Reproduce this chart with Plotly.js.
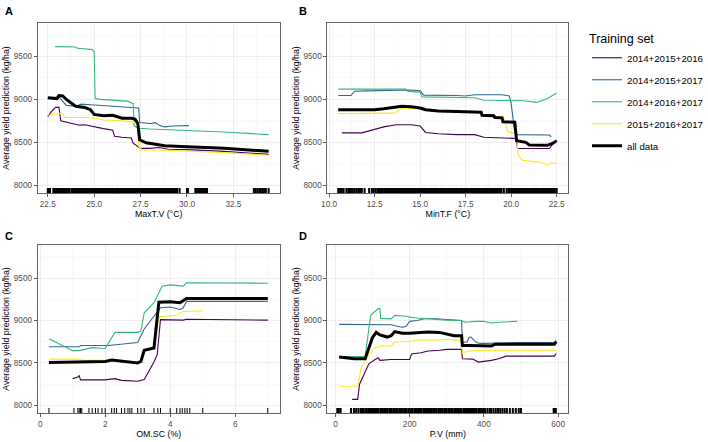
<!DOCTYPE html>
<html>
<head>
<meta charset="utf-8">
<script src="https://cdn.plot.ly/plotly-3.0.1.min.js"></script>
<style>html,body{margin:0;padding:0;background:#fff;}#chart{width:708px;height:442px;}</style>
</head>
<body>
<div id="chart"></div>
<script>
// ---------- Series names ----------
const seriesNames = ["2014+2015+2016", "2014+2015+2017", "2014+2016+2017", "2015+2016+2017", "all data"];

// ---------- Panel A: MaxT.V (°C) ----------
const A_2016_x = [22.5, 22.7, 22.9, 23.1, 23.2, 23.5, 23.7, 24.2, 24.5, 24.8, 25.0, 25.5, 26.0, 26.1, 26.5, 27.0, 27.1, 27.3, 27.5, 28.0, 28.5, 29.0, 30.0, 32.0, 34.4];
const A_2016_y = [8800, 8860, 8905, 8910, 8750, 8735, 8720, 8700, 8705, 8690, 8680, 8660, 8640, 8570, 8560, 8550, 8490, 8460, 8430, 8430, 8440, 8420, 8415, 8395, 8360];
const A_2017a_x = [22.5, 23.1, 23.3, 23.5, 24.0, 24.3, 25.0, 26.0, 27.0, 27.4, 27.45, 28.0, 28.3, 28.5, 28.8, 29.2, 30.1];
const A_2017a_y = [9010, 9030, 8980, 8930, 8920, 8945, 8935, 8920, 8910, 8900, 8730, 8720, 8730, 8700, 8680, 8690, 8695];
const A_2017b_x = [22.9, 24.0, 24.1, 24.7, 24.9, 25.0, 25.05, 25.3, 26.5, 26.8, 27.0, 27.1, 27.15, 27.4, 28.0, 30.0, 32.0, 34.4];
const A_2017b_y = [9615, 9610, 9595, 9590, 9580, 9550, 9010, 9000, 8990, 8980, 8960, 8950, 8690, 8665, 8655, 8640, 8620, 8590];
const A_2017c_x = [22.5, 23.0, 23.3, 23.4, 24.5, 25.0, 25.5, 26.5, 27.0, 27.35, 27.4, 27.6, 28.5, 30.0, 32.0, 34.4];
const A_2017c_y = [8815, 8835, 8840, 8790, 8790, 8780, 8760, 8750, 8740, 8730, 8450, 8410, 8410, 8400, 8380, 8350];
const A_all_x = [22.5, 22.9, 23.0, 23.1, 23.3, 23.5, 23.7, 24.0, 24.5, 24.8, 25.0, 25.5, 26.0, 26.3, 26.5, 27.0, 27.2, 27.35, 27.45, 27.8, 28.3, 28.8, 30.0, 32.0, 34.4];
const A_all_y = [9020, 9015, 9010, 9045, 9040, 9000, 8965, 8920, 8905, 8880, 8825, 8810, 8815, 8790, 8780, 8780, 8770, 8720, 8530, 8495, 8480, 8460, 8450, 8430, 8395];
const A_rug = [22.5,22.55,22.62,22.8,22.86,22.93,23.0,23.07,23.12,23.2,23.27,23.33,23.41,23.48,23.55,23.6,23.68,23.8,23.86,23.92,24.0,24.06,24.13,24.2,24.26,24.33,24.4,24.47,24.53,24.6,24.66,24.73,24.8,24.86,24.93,25.0,25.06,25.13,25.2,25.26,25.33,25.4,25.46,25.53,25.6,25.66,25.73,25.8,25.86,25.93,26.0,26.06,26.13,26.2,26.26,26.33,26.4,26.46,26.53,26.6,26.66,26.73,26.8,26.86,26.93,27.0,27.06,27.13,27.2,27.26,27.33,27.4,27.46,27.53,27.6,27.66,27.73,27.8,27.86,27.93,28.0,28.06,28.13,28.2,28.26,28.33,28.4,28.46,28.53,28.6,28.66,28.73,28.8,28.86,28.93,29.0,29.06,29.13,29.2,29.26,29.33,29.4,29.47,29.6,30.0,30.05,30.45,30.52,30.6,30.7,30.78,30.85,30.92,31.0,31.08,33.6,33.7,33.8,33.9,33.97,34.05,34.15,34.25,34.4];

// ---------- Panel B: MinT.F (°C) ----------
const B_2016_x = [10.7, 11.8, 13.0, 13.7, 14.5, 15.0, 15.3, 16.0, 17.0, 18.0, 18.5, 20.27, 20.35, 21.0, 22.1, 22.3, 22.5];
const B_2016_y = [8610, 8610, 8680, 8705, 8705, 8690, 8615, 8600, 8590, 8590, 8560, 8545, 8430, 8428, 8428, 8485, 8520];
const B_2017a_x = [10.5, 11.2, 11.4, 12.0, 14.5, 15.0, 15.2, 16.0, 17.0, 17.5, 18.0, 19.5, 19.9, 20.0, 20.1, 20.2, 20.3, 21.0, 22.1, 22.2];
const B_2017a_y = [9045, 9045, 9095, 9100, 9110, 9100, 9050, 9050, 9045, 9040, 9055, 9055, 9040, 8950, 8750, 8620, 8590, 8585, 8585, 8565];
const B_2017b_x = [10.5, 14.2, 14.3, 15.0, 15.1, 18.0, 18.5, 20.0, 20.7, 21.4, 22.0, 22.5];
const B_2017b_y = [9120, 9120, 9095, 9085, 9030, 9020, 8990, 8990, 8985, 8965, 9010, 9075];
const B_2017c_x = [10.5, 13.6, 14.0, 15.0, 15.3, 16.0, 18.3, 18.5, 19.55, 19.83, 20.27, 20.4, 20.63, 21.5, 22.0, 22.2, 22.5];
const B_2017c_y = [8835, 8840, 8893, 8900, 8880, 8860, 8850, 8805, 8800, 8620, 8600, 8350, 8290, 8270, 8240, 8260, 8255];
const B_all_x = [10.5, 12.5, 13.0, 13.7, 14.0, 14.5, 15.0, 15.3, 16.0, 17.0, 18.0, 18.35, 18.4, 19.05, 19.1, 19.5, 19.55, 20.2, 20.3, 20.8, 21.0, 22.0, 22.3, 22.5];
const B_all_y = [8880, 8880, 8890, 8910, 8920, 8915, 8900, 8880, 8865, 8860, 8855, 8850, 8815, 8810, 8790, 8785, 8740, 8735, 8520, 8500, 8470, 8465, 8490, 8520];
const B_rug = [10.5,10.6,10.7,10.8,10.95,11.05,11.15,11.2,11.3,11.4,11.5,11.6,11.7,11.8,11.95,12.2,12.35,12.45,12.55,12.65,12.72,12.8,12.88,12.95,13.03,13.1,13.18,13.25,13.33,13.4,13.47,13.55,13.62,13.7,13.78,13.85,13.92,14.0,14.07,14.15,14.22,14.3,14.37,14.45,14.52,14.6,14.67,14.75,14.82,14.9,14.97,15.05,15.12,15.2,15.27,15.35,15.42,15.5,15.57,15.65,15.72,15.8,15.87,15.95,16.02,16.1,16.17,16.25,16.32,16.4,16.47,16.55,16.62,16.7,16.77,16.85,16.92,17.0,17.07,17.15,17.22,17.3,17.37,17.45,17.52,17.6,17.67,17.75,17.82,17.9,17.97,18.05,18.12,18.2,18.27,18.35,18.42,18.5,18.57,18.65,18.72,18.8,18.87,18.95,19.02,19.1,19.17,19.25,19.32,19.4,19.47,19.6,19.75,19.85,19.92,20.0,20.07,20.15,20.22,20.3,20.37,20.45,20.52,20.6,20.67,20.75,20.82,20.9,20.97,21.05,21.12,21.2,21.27,21.35,21.42,21.5,21.57,21.65,21.72,21.8,21.87,21.95,22.02,22.1,22.17,22.25,22.32,22.4,22.5];

// ---------- Panel C: OM.SC (%) ----------
const C_2016_x = [1.0, 1.16, 1.2, 1.24, 2.0, 2.2, 2.3, 2.5, 3.0, 3.2, 3.5, 3.6, 3.7, 4.4, 4.5, 7.0];
const C_2016_y = [8315, 8335, 8350, 8300, 8300, 8305, 8315, 8295, 8285, 8305, 8510, 8600, 9010, 9005, 9015, 9005];
const C_2017a_x = [0.27, 1.2, 1.24, 2.0, 2.1, 3.0, 3.2, 3.4, 3.7, 4.0, 4.3, 4.4, 4.5, 7.0];
const C_2017a_y = [8690, 8690, 8705, 8705, 8705, 8740, 8900, 9000, 9150, 9160, 9130, 9150, 9225, 9225];
const C_2017b_x = [0.27, 1.0, 1.2, 1.6, 2.0, 2.3, 3.0, 3.1, 3.2, 3.5, 3.75, 4.0, 4.4, 4.5, 7.0];
const C_2017b_y = [8785, 8645, 8645, 8680, 8670, 8860, 8860, 8880, 9090, 9210, 9405, 9420, 9405, 9445, 9440];
const C_2017c_x = [0.27, 1.2, 1.3, 2.0, 2.3, 2.5, 3.0, 3.1, 3.2, 3.5, 3.65, 4.2, 4.4, 5.0];
const C_2017c_y = [8545, 8545, 8530, 8530, 8530, 8510, 8510, 8520, 8650, 8660, 9040, 9065, 9105, 9115];
const C_all_x = [0.27, 1.0, 1.2, 2.0, 2.2, 2.5, 2.8, 3.0, 3.1, 3.2, 3.5, 3.65, 4.0, 4.3, 4.5, 7.0];
const C_all_y = [8505, 8510, 8520, 8518, 8535, 8520, 8510, 8500, 8520, 8650, 8675, 9215, 9220, 9210, 9260, 9260];
const C_rug = [0.27, 1.04, 1.16, 1.2, 1.24, 1.28, 1.5, 1.6, 1.7, 1.78, 1.9, 2.0, 2.2, 2.28, 2.35, 2.5, 2.6, 2.7, 2.76, 2.82, 3.0, 3.1, 3.2, 3.5, 3.62, 3.7, 4.0, 4.2, 4.3, 4.37, 4.45, 4.52, 4.6, 5.0, 7.0];

// ---------- Panel D: P.V (mm) ----------
const D_2016_x = [45, 60, 65, 90, 100, 115, 120, 150, 200, 205, 230, 250, 280, 300, 340, 342, 370, 385, 420, 440, 460, 590, 595];
const D_2016_y = [8070, 8070, 8250, 8490, 8520, 8560, 8530, 8540, 8540, 8605, 8620, 8640, 8650, 8660, 8660, 8550, 8545, 8510, 8530, 8550, 8580, 8580, 8610];
const D_2017a_x = [10, 150, 170, 180, 190, 200, 220, 240, 270, 300, 340, 342, 355, 360, 365, 380, 390, 410, 430, 500, 590, 595];
const D_2017a_y = [8955, 8950, 8930, 8920, 8930, 8990, 9000, 9020, 9020, 9010, 9000, 8740, 8750, 8800, 8805, 8740, 8730, 8730, 8735, 8740, 8740, 8765];
const D_2017b_x = [10, 80, 90, 95, 105, 115, 120, 122, 150, 160, 190, 200, 220, 250, 300, 340, 350, 380, 400, 420, 440, 490];
const D_2017b_y = [8575, 8575, 8900, 9060, 9100, 9140, 9140, 9025, 9020, 9060, 9050, 9040, 9030, 9020, 9005, 9000, 8980, 8990, 8990, 8970, 8980, 8990];
const D_2017c_x = [10, 60, 70, 100, 120, 150, 160, 200, 220, 280, 300, 340, 342, 360, 400, 595];
const D_2017c_y = [8225, 8225, 8450, 8660, 8700, 8700, 8750, 8750, 8770, 8770, 8780, 8760, 8620, 8640, 8650, 8650];
const D_all_x = [10, 30, 50, 80, 100, 110, 120, 140, 150, 160, 180, 200, 230, 250, 280, 300, 320, 340, 342, 360, 400, 420, 430, 590, 595];
const D_all_y = [8570, 8560, 8550, 8550, 8800, 8860, 8830, 8805, 8820, 8870, 8850, 8850, 8860, 8865, 8860, 8840, 8820, 8820, 8705, 8705, 8700, 8700, 8720, 8720, 8750];
const D_rug = [5, 9, 14, 42, 50, 56, 62, 68, 72, 76, 81, 84, 88, 93, 96, 100, 104, 109, 112, 116, 121, 124, 128, 133, 136, 140, 145, 148, 152, 157, 160, 164, 168, 173, 176, 180, 185, 188, 192, 197, 200, 204, 208, 213, 216, 220, 225, 228, 232, 237, 240, 244, 249, 252, 256, 260, 265, 268, 272, 277, 280, 284, 288, 293, 296, 300, 305, 308, 312, 316, 321, 324, 328, 333, 336, 340, 345, 348, 352, 357, 360, 364, 368, 373, 376, 380, 385, 388, 392, 397, 400, 404, 410, 416, 420, 426, 432, 438, 444, 450, 456, 462, 470, 478, 486, 494, 500, 588, 591, 594];

// ---------- Tick labels ----------
const yTicks = [8000, 8500, 9000, 9500];
const A_ticks = [22.5, 25.0, 27.5, 30.0, 32.5];
const B_ticks = [10.0, 12.5, 15.0, 17.5, 20.0, 22.5];
const C_ticks = [0, 2, 4, 6];
const D_ticks = [0, 200, 400, 600];
const xTitles = ["MaxT.V (°C)", "MinT.F (°C)", "OM.SC (%)", "P.V (mm)"];
const panelLetters = ["A", "B", "C", "D"];
const yTitle = "Average yield prediction (kg/ha)";

// ---------- Styles ----------
const colors = ["#440154", "#31688E", "#35B779", "#FDE725", "#000000"];
const widths = [1.1, 1.1, 1.1, 1.1, 3];
const rugWidths = [2, 2, 1.0, 2];
const FONT = "Liberation Sans, Arial, sans-serif";

const panels = [
  {sx: [A_2016_x, A_2017a_x, A_2017b_x, A_2017c_x, A_all_x], sy: [A_2016_y, A_2017a_y, A_2017b_y, A_2017c_y, A_all_y], rug: A_rug},
  {sx: [B_2016_x, B_2017a_x, B_2017b_x, B_2017c_x, B_all_x], sy: [B_2016_y, B_2017a_y, B_2017b_y, B_2017c_y, B_all_y], rug: B_rug},
  {sx: [C_2016_x, C_2017a_x, C_2017b_x, C_2017c_x, C_all_x], sy: [C_2016_y, C_2017a_y, C_2017b_y, C_2017c_y, C_all_y], rug: C_rug},
  {sx: [D_2016_x, D_2017a_x, D_2017b_x, D_2017c_x, D_all_x], sy: [D_2016_y, D_2017a_y, D_2017b_y, D_2017c_y, D_all_y], rug: D_rug}
];

const W = 708, H = 442;
const xDom = [[38 / W, 283 / W], [331 / W, 575 / W]];
const yDom = [[1 - 193 / H, 1 - 23 / H], [1 - 413 / H, 1 - 245 / H]];
const xRanges = [[21.95, 35.0], [9.9, 23.15], [-0.08, 7.37], [-22, 628]];
const xTickSets = [A_ticks, B_ticks, C_ticks, D_ticks];
const xFormats = [".1f", ".1f", "d", "d"];
const xMinor = [1.25, 1.25, 1, 100];

const traces = [];
const shapes = [];
const annotations = [];
const layout = {
  width: W, height: H,
  margin: {l: 0, r: 0, t: 0, b: 0},
  paper_bgcolor: "#ffffff",
  plot_bgcolor: "#ffffff",
  font: {family: FONT, color: "#000"},
  showlegend: true,
  legend: {
    x: 594 / W, xanchor: "left", y: 1 - 27 / H, yanchor: "top",
    title: {text: "Training set", font: {size: 12.5, color: "#000", family: FONT}},
    font: {size: 9.7, color: "#000", family: FONT},
    tracegroupgap: 3,
    bgcolor: "rgba(0,0,0,0)"
  }
};

panels.forEach((p, i) => {
  const sfx = i === 0 ? "" : String(i + 1);
  const col = i % 2, row = Math.floor(i / 2);
  for (let s = 0; s < 5; s++) {
    traces.push({
      type: "scatter", mode: "lines",
      x: p.sx[s], y: p.sy[s],
      xaxis: "x" + sfx, yaxis: "y" + sfx,
      name: seriesNames[s],
      legendgroup: seriesNames[s],
      showlegend: i === 0,
      line: {color: colors[s], width: widths[s]},
      hoverinfo: "skip"
    });
  }
  p.rug.forEach(v => {
    shapes.push({type: "line", xref: "x" + sfx, yref: "y" + sfx + " domain",
      x0: v, x1: v, y0: 0, y1: 0.03, line: {color: "#000", width: rugWidths[i]}, layer: "above"});
  });
  layout["xaxis" + sfx] = {
    domain: xDom[col], anchor: "y" + sfx, range: xRanges[i],
    tickmode: "array", tickvals: xTickSets[i], tickformat: xFormats[i],
    ticks: "outside", ticklen: 3, tickwidth: 0.8, tickcolor: "#333",
    tickfont: {size: 8.2, color: "#4d4d4d", family: FONT},
    showgrid: true, gridcolor: "#ebebeb", gridwidth: 0.8,
    minor: {dtick: xMinor[i], tick0: 0, showgrid: true, gridcolor: "#f3f3f3", gridwidth: 0.5, ticks: ""},
    showline: true, mirror: true, linecolor: "#555", linewidth: 0.9,
    zeroline: false,
    title: {text: xTitles[i], font: {size: 8.8, color: "#000", family: FONT}, standoff: 3}
  };
  layout["yaxis" + sfx] = {
    domain: yDom[row], anchor: "x" + sfx, range: [7910, 9890],
    tickmode: "array", tickvals: yTicks,
    ticks: "outside", ticklen: 3, tickwidth: 0.8, tickcolor: "#333",
    tickfont: {size: 8.2, color: "#4d4d4d", family: FONT},
    showgrid: true, gridcolor: "#ebebeb", gridwidth: 0.8,
    minor: {dtick: 250, tick0: 0, showgrid: true, gridcolor: "#f3f3f3", gridwidth: 0.5, ticks: ""},
    showline: true, mirror: true, linecolor: "#555", linewidth: 0.9,
    zeroline: false,
    title: {text: yTitle, font: {size: 8.8, color: "#000", family: FONT}, standoff: 2}
  };
  annotations.push({
    text: "<b>" + panelLetters[i] + "</b>", xref: "paper", yref: "paper",
    x: (col === 0 ? 3 : 300) / W, y: 1 - (row === 0 ? 3 : 228) / H,
    xanchor: "left", yanchor: "top", showarrow: false,
    font: {size: 11, color: "#000", family: FONT}
  });
});

layout.shapes = shapes;
layout.annotations = annotations;

Plotly.newPlot("chart", traces, layout, {displayModeBar: false, staticPlot: true});
</script>
</body>
</html>
